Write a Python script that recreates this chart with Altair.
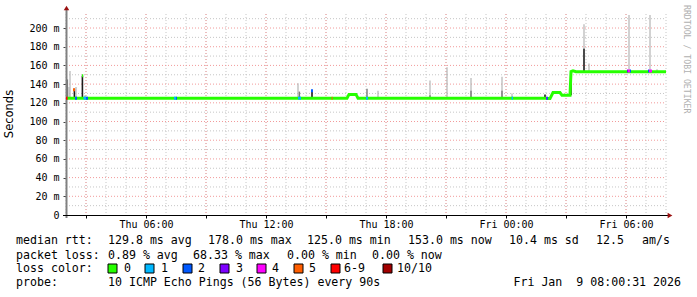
import altair as alt
import pandas as pd

# ---------------- data ----------------
LOSS_LABELS = ["0", "1", "2", "3", "4", "5", "6-9", "10/10"]
LOSS_COLORS = ["#26ff00", "#00b8ff", "#0059ff", "#7e00ff", "#ff00ff", "#ff5e00", "#ff0000", "#a10000"]

# hours after Thu 02:00 (30 h window ending Fri 08:00)
med_hours = [0.05, 14.05, 14.15, 14.5, 14.6, 23.95, 24.1, 24.2, 24.35, 24.7, 24.8, 25.2, 25.25, 25.35, 25.5, 30.0]
med_ms = [125, 125, 129, 129, 125, 125, 124.5, 124.5, 131, 131, 128, 128, 153.5, 154.3, 153.3, 153.3]

smoke_hours = [0.07, 0.15, 0.2, 0.42, 0.5, 0.82, 0.95, 11.6, 11.67, 12.3, 15.05, 15.6,
               18.2, 18.2, 19.05, 20.25, 20.25, 21.8, 21.8, 22.3, 23.95, 25.25, 25.9, 25.9, 26.15,
               28.15, 29.2, 29.55]
smoke_low = [125, 125, 125, 125, 125, 125, 125, 125, 125, 125, 125, 125,
             125, 125, 125, 125, 125, 125, 125, 125, 125, 128, 153, 178, 153,
             153, 153, 153]
smoke_high = [145, 137, 154, 135, 137, 149, 128, 141, 132, 133.5, 135, 133,
              144, 128, 158, 146.5, 133, 148, 133, 130, 129, 154, 178, 204, 162,
              214, 214, 156]
smoke_tone = ["mid", "light", "light", "dark", "light", "dark", "light", "light", "mid", "dark", "mid", "light",
              "light", "mid", "light", "light", "mid", "light", "mid", "light", "dark", "dark", "dark", "light", "light",
              "light", "light", "light"]

loss_start = [0.0, 0.35, 0.45, 0.8, 0.88, 1.0, 5.4, 5.5, 11.6, 12.25, 13.28, 15.0, 22.28,
              24.0, 24.05, 28.05, 28.1, 28.2, 29.1, 29.15]
loss_end = [0.08, 0.45, 0.55, 0.86, 1.0, 1.1, 5.5, 5.55, 11.75, 12.35, 13.33, 15.1, 22.35,
            24.05, 24.1, 28.1, 28.2, 28.25, 29.15, 29.3]
loss_ms = [125, 134, 125, 149, 125, 125, 125, 125, 125, 133, 125, 125, 125,
           125, 125, 154, 154, 154, 154, 154]
loss_level = ["6-9", "5", "2", "0", "1", "2", "1", "2", "1", "2", "5", "1", "1",
              "3", "2", "3", "4", "2", "2", "4"]

x_tick_hours = [1, 4, 7, 10, 13, 16, 19, 22, 25, 28]
x_label_hours = [4, 10, 16, 22, 28]
x_label_text = ["Thu 06:00", "Thu 12:00", "Thu 18:00", "Fri 00:00", "Fri 06:00"]
y_tick_ms = [0, 20, 40, 60, 80, 100, 120, 140, 160, 180, 200]
grid_minor_hours = list(range(0, 31))
grid_major_hours = [1, 4, 7, 10, 13, 16, 19, 22, 25, 28]
grid_minor_ms = [10, 30, 50, 70, 90, 110, 130, 150, 170, 190, 210]
grid_major_ms = [20, 40, 60, 80, 100, 120, 140, 160, 180, 200]

rtt_items = ["median rtt:", "129.8 ms avg", "178.0 ms max", "125.0 ms min", "153.0 ms now",
             "10.4 ms sd", "12.5", "am/s"]
pl_items = ["packet loss:", "0.89 % avg", "68.33 % max", "0.00 % min", "0.00 % now"]
lc_title = ["loss color:"]
probe_items = ["probe:", "10 ICMP Echo Pings (56 Bytes) every 90s"]
date_items = ["Fri Jan\u00a0 9 08:00:31 2026"]

# ---------------- layout ----------------
L, T = 66, 14
W, H = 600, 201
rtt_x = [16, 108, 208, 307, 408, 509, 596, 642]
pl_x = [16, 108, 193, 287, 372]
box_x = [108, 145, 183, 220, 257, 294, 331, 383]
lab_x = [124, 161, 198, 236, 272, 309, 344, 397]
MONO = "DejaVu Sans Mono"
FS = 11.6

xs = alt.Scale(domain=[0, 30], nice=False, zero=False)
ys = alt.Scale(domain=[0, 215], nice=False, zero=True)

lx = "".join(f"datum.value == {h} ? '{t}' : " for h, t in zip(x_label_hours, x_label_text)) + "''"
ly = "datum.value == 0 ? '0\u00a0\u00a0' : datum.value + ' m'"

x_axis = alt.Axis(values=x_tick_hours, labelExpr=lx, tickSize=3, tickColor="black", domain=False,
                  grid=False, labelFont=MONO, labelFontSize=10, labelColor="black", labelPadding=1,
                  title=None, labelFlush=False, labelOverlap=False)
y_axis = alt.Axis(values=y_tick_ms, labelExpr=ly, tickSize=3, tickColor="#444", domain=False,
                  grid=False, labelFont=MONO, labelFontSize=10, labelColor="black", labelPadding=4,
                  title=None, labelOverlap=False)


def X(f):
    return alt.X(f, scale=xs, axis=x_axis)


def Y(f):
    return alt.Y(f, scale=ys, axis=y_axis)


one = pd.DataFrame({"a": [0]})

gv_minor = alt.Chart(pd.DataFrame({"h": grid_minor_hours})).mark_rule(
    color="#c6c6c6", strokeDash=[1, 2], strokeWidth=1).encode(
    x=X("h:Q"), y=alt.value(0), y2=alt.value(H))
gv_major = alt.Chart(pd.DataFrame({"h": grid_major_hours})).mark_rule(
    color="#f29a9a", strokeDash=[1, 2], strokeWidth=1).encode(
    x=X("h:Q"), y=alt.value(0), y2=alt.value(H))
gh_minor = alt.Chart(pd.DataFrame({"v": grid_minor_ms})).mark_rule(
    color="#c6c6c6", strokeDash=[1, 2], strokeWidth=1).encode(
    y=Y("v:Q"), x=alt.value(0), x2=alt.value(W))
gh_major = alt.Chart(pd.DataFrame({"v": grid_major_ms})).mark_rule(
    color="#f29a9a", strokeDash=[1, 2], strokeWidth=1).encode(
    y=Y("v:Q"), x=alt.value(0), x2=alt.value(W))

yaxis_line = alt.Chart(one).mark_rule(color="#808080", strokeWidth=2).encode(
    x=alt.value(0.5), y=alt.value(H + 3), y2=alt.value(-5))

TONES = ["light", "mid", "dark"]
smoke = alt.Chart(pd.DataFrame({"h": smoke_hours, "lo": smoke_low, "hi": smoke_high, "tone": smoke_tone})
                  ).mark_rule(strokeCap="butt").encode(
    x=X("h:Q"), y=Y("lo:Q"), y2="hi:Q",
    stroke=alt.Stroke("tone:N", scale=alt.Scale(domain=TONES,
                                                range=["#b4b4b4", "#7a7a7a", "#1c1c1c"]), legend=None),
    strokeWidth=alt.StrokeWidth("tone:N", scale=alt.Scale(domain=TONES,
                                                          range=[1.2, 1.6, 2.2]), legend=None))

median = alt.Chart(pd.DataFrame({"h": med_hours, "ms": med_ms})).mark_line(
    color="#26ff00", strokeWidth=3, strokeCap="butt", strokeJoin="miter").encode(
    x=X("h:Q"), y=Y("ms:Q"))

loss = alt.Chart(pd.DataFrame({"h0": loss_start, "h1": loss_end, "ms": loss_ms, "lvl": loss_level})
                 ).mark_rule(strokeWidth=3, strokeCap="butt").encode(
    x=X("h0:Q"), x2="h1:Q", y=Y("ms:Q"),
    color=alt.Color("lvl:N", scale=alt.Scale(domain=LOSS_LABELS, range=LOSS_COLORS), legend=None))

xaxis_line = alt.Chart(one).mark_rule(color="black", strokeWidth=1).encode(
    x=alt.value(-3), x2=alt.value(602), y=alt.value(H + 0.5))

arrow_up = alt.Chart(one).mark_point(shape="triangle-up", filled=True, color="#9a1010",
                                     size=30, opacity=1).encode(x=alt.value(0.5), y=alt.value(-6))
arrow_right = alt.Chart(one).mark_point(shape="triangle-right", filled=True, color="#9a1010",
                                        size=30, opacity=1).encode(x=alt.value(604), y=alt.value(H + 0.5))


def text_row(items, xs_abs, ytop, align="left"):
    d = pd.DataFrame({"t": items, "px": [v - L for v in xs_abs]})
    return alt.Chart(d).mark_text(font=MONO, fontSize=FS, color="black", align=align,
                                  baseline="middle").encode(
        x=alt.X("px:Q", scale=None), y=alt.value(ytop - T), text="t:N")


row1 = text_row(rtt_items, rtt_x, 241)
row2 = text_row(pl_items, pl_x, 255.5)
row3 = text_row(lc_title, [16], 268.5)
row3b = text_row(LOSS_LABELS, lab_x, 268.5)
row4 = text_row(probe_items, [16, 108], 283)
row4b = text_row(date_items, [681], 283, align="right")

boxes = alt.Chart(pd.DataFrame({"lvl": LOSS_LABELS, "bx": [v - L for v in box_x],
                                "bx2": [v - L + 9 for v in box_x]})).mark_rect(
    stroke="black", strokeWidth=1).encode(
    x=alt.X("bx:Q", scale=None), x2="bx2:Q", y=alt.value(264 - T), y2=alt.value(273 - T),
    fill=alt.Fill("lvl:N", scale=alt.Scale(domain=LOSS_LABELS, range=LOSS_COLORS), legend=None))

ytitle = alt.Chart(pd.DataFrame({"t": ["Seconds"]})).mark_text(
    font="DejaVu Sans", fontSize=11.5, color="black", angle=270, align="center", baseline="middle"
).encode(x=alt.value(10 - L), y=alt.value(114 - T), text="t:N")

credit = alt.Chart(pd.DataFrame({"t": ["RRDTOOL / TOBI OETIKER"]})).mark_text(
    font=MONO, fontSize=8.2, color="#b0b0b0", angle=90, align="left", baseline="middle"
).encode(x=alt.value(686 - L), y=alt.value(5 - T), text="t:N")

chart = alt.layer(
    gv_minor, gh_minor, gv_major, gh_major, yaxis_line, smoke, median, loss, xaxis_line,
    arrow_up, arrow_right, row1, row2, row3, row3b, boxes, row4, row4b, ytitle, credit
).resolve_scale(
    color="independent", fill="independent", stroke="independent", strokeWidth="independent"
).properties(
    width=W, height=H,
    autosize=alt.AutoSizeParams(type="none"),
    padding={"left": L, "top": T, "right": 697 - L - W, "bottom": 297 - T - H},
    background="white",
).configure_view(stroke=None)

chart.save("out.html", embed_options={"renderer": "svg", "actions": False})
